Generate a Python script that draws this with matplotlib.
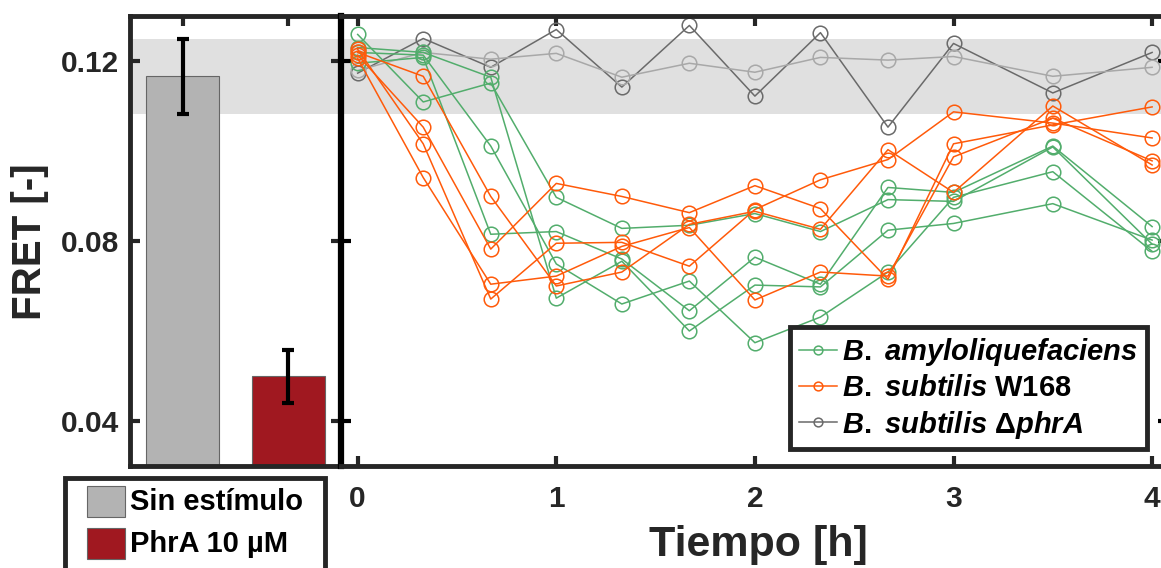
import matplotlib
matplotlib.use('Agg')
import matplotlib.pyplot as plt
from matplotlib.patches import Rectangle

plt.rcParams['font.family'] = ['Liberation Sans', 'DejaVu Sans']
plt.rcParams['font.weight'] = 'bold'
plt.rcParams['mathtext.fontset'] = 'custom'
plt.rcParams['mathtext.it'] = 'Liberation Sans:italic:bold'
plt.rcParams['mathtext.rm'] = 'Liberation Sans'
plt.rcParams['mathtext.bf'] = 'Liberation Sans:bold'

# --- datos panel izquierdo (barras) ---
bar_labels = ['Sin estímulo', 'PhrA 10 µM']
bar_means = [0.1166, 0.0499]
bar_errs = [0.0083, 0.0059]
bar_colors = ['#b3b3b3', '#a01820']

# --- datos panel derecho (FRET vs tiempo) ---
tiempo = [0, 0.33, 0.67, 1, 1.33, 1.67, 2, 2.33, 2.67, 3, 3.5, 4]

amylo = [
    [0.1259, 0.1109, 0.1151, 0.0897, 0.0828, 0.0835, 0.0861, 0.0821, 0.0892, 0.0888, 0.1009, 0.0793],
    [0.1230, 0.1219, 0.1164, 0.0673, 0.0755, 0.0600, 0.0702, 0.0698, 0.0824, 0.0839, 0.0883, 0.0802],
    [0.1219, 0.1213, 0.1011, 0.0749, 0.0660, 0.0711, 0.0574, 0.0631, 0.0731, 0.0897, 0.0954, 0.0777],
    [0.1195, 0.1208, 0.0815, 0.0821, 0.0760, 0.0645, 0.0764, 0.0704, 0.0919, 0.0908, 0.1011, 0.0832],
]
w168 = [
    [0.1213, 0.1053, 0.0782, 0.0928, 0.0899, 0.0863, 0.0923, 0.0872, 0.0715, 0.1016, 0.1058, 0.1098],
    [0.1226, 0.1016, 0.0671, 0.0795, 0.0797, 0.0744, 0.0870, 0.0936, 0.0981, 0.1087, 0.1062, 0.1029],
    [0.1219, 0.1166, 0.0899, 0.0700, 0.0731, 0.0837, 0.0866, 0.0826, 0.1003, 0.0908, 0.1100, 0.0969],
    [0.1206, 0.0941, 0.0704, 0.0722, 0.0788, 0.0830, 0.0669, 0.0731, 0.0722, 0.0987, 0.1073, 0.0978],
]
dphra = [
    [0.1173, 0.1250, 0.1186, 0.1270, 0.1142, 0.1279, 0.1122, 0.1263, 0.1053, 0.1239, 0.1129, 0.1219],
    [0.1179, 0.1219, 0.1204, 0.1217, 0.1164, 0.1195, 0.1175, 0.1208, 0.1202, 0.1210, 0.1166, 0.1186],
]

leg_labels = [r'$\mathit{B.}$ $\mathit{amyloliquefaciens}$',
              r'$\mathit{B.}$ $\mathit{subtilis}$ W168',
              r'$\mathit{B.}$ $\mathit{subtilis}$ $\Delta\mathit{phrA}$']

verde = '#52ad6c'
naranja = '#ff5a0a'
grises = ['#6a6a6a', '#a8a8a8']
banda = '#e0e0e0'
oscuro = '#262626'

W, H = 1161, 568
fig = plt.figure(figsize=(W / 100, H / 100), dpi=100)

ax1 = fig.add_axes([130 / W, 1 - 466 / H, 211 / W, 450 / H])
ax2 = fig.add_axes([341 / W, 1 - 466 / H, 827 / W, 450 / H])

ylim = (0.03, 0.13)
lo = bar_means[0] - bar_errs[0]
hi = bar_means[0] + bar_errs[0]

# panel de barras
xb = [1, 2]
ax1.axhspan(lo, hi, color=banda, zorder=0, lw=0)
bars = ax1.bar(xb, bar_means, width=0.69, color=bar_colors, edgecolor='#666666',
               linewidth=0.8, zorder=2)
ax1.errorbar(xb, bar_means, yerr=bar_errs, fmt='none', ecolor='black',
             elinewidth=3, capsize=4.5, capthick=3, zorder=3)
ax1.set_xlim(0.5, 2.5)
ax1.set_ylim(*ylim)
ax1.set_xticks(xb)
ax1.set_xticklabels([])
ax1.set_yticks([0.04, 0.08, 0.12])
ax1.set_yticklabels(['0.04', '0.08', '0.12'])
ax1.tick_params(direction='in', length=7, width=3, top=True, right=True,
                labelsize=21.5, labelcolor=oscuro, color=oscuro, pad=8)
for s in ['left', 'top', 'bottom']:
    ax1.spines[s].set_linewidth(3.5)
    ax1.spines[s].set_color(oscuro)
ax1.spines['right'].set_visible(False)

# panel temporal
ax2.axhspan(lo, hi, color=banda, zorder=0, lw=0)
estilo = dict(marker='o', mfc='none', markersize=10.5, mew=1.1, lw=1.1)
h_gris = None
for i, serie in enumerate(dphra):
    l, = ax2.plot(tiempo, serie, color=grises[i], **estilo)
    if i == 0:
        h_gris = l
h_verde = None
for i, serie in enumerate(amylo):
    l, = ax2.plot(tiempo, serie, color=verde, **estilo)
    if i == 0:
        h_verde = l
h_naranja = None
for i, serie in enumerate(w168):
    l, = ax2.plot(tiempo, serie, color=naranja, **estilo)
    if i == 0:
        h_naranja = l

ax2.set_xlim(-0.084, 4.08)
ax2.set_ylim(*ylim)
ax2.set_xticks([0, 1, 2, 3, 4])
ax2.set_yticks([0.04, 0.08, 0.12])
ax2.set_yticklabels([])
ax2.tick_params(direction='in', length=7, width=3, top=True, right=True,
                labelsize=21.5, labelcolor=oscuro, color=oscuro, pad=14)
ax2.tick_params(axis='y', color='black')
for s in ['top', 'bottom', 'right']:
    ax2.spines[s].set_linewidth(3.5)
    ax2.spines[s].set_color(oscuro)
ax2.spines['left'].set_linewidth(4.5)
ax2.spines['left'].set_color('black')

leg = ax2.legend([h_verde, h_naranja, h_gris], leg_labels, loc='upper left',
                 bbox_to_anchor=(790 / W, 1 - 327 / H), bbox_transform=fig.transFigure,
                 borderaxespad=0, fontsize=21, handlelength=1.3, handletextpad=0.2,
                 markerscale=0.6, labelspacing=0.22, borderpad=0.3,
                 fancybox=False, framealpha=1)
leg.get_frame().set_linewidth(3.5)
leg.get_frame().set_edgecolor(oscuro)

# leyenda de las barras (recuadro propio, cortado por el borde inferior)
px = fig.transFigure
fig.patches.append(Rectangle((65 / W, 1 - 600 / H), 260 / W, 122 / H, transform=px,
                             facecolor='white', edgecolor=oscuro, lw=3.5, zorder=5))
for i, (lab, col) in enumerate(zip(bar_labels, bar_colors)):
    ytop = 486 + 42 * i
    fig.patches.append(Rectangle((87 / W, 1 - (ytop + 31) / H), 38 / W, 31 / H,
                                 transform=px, facecolor=col, edgecolor='#666666',
                                 lw=0.8, zorder=6))
    fig.text(130 / W, 1 - (ytop + 16) / H, lab, ha='left', va='center',
             fontsize=21, color='black', zorder=7)

fig.text(30 / W, 1 - 242 / H, 'FRET [-]', rotation=90, ha='center', va='center',
         fontsize=29, color=oscuro)
fig.text(758 / W, 1 - 545 / H, 'Tiempo [h]', ha='center', va='center',
         fontsize=31, color=oscuro)

fig.savefig('out.png', dpi=100)
